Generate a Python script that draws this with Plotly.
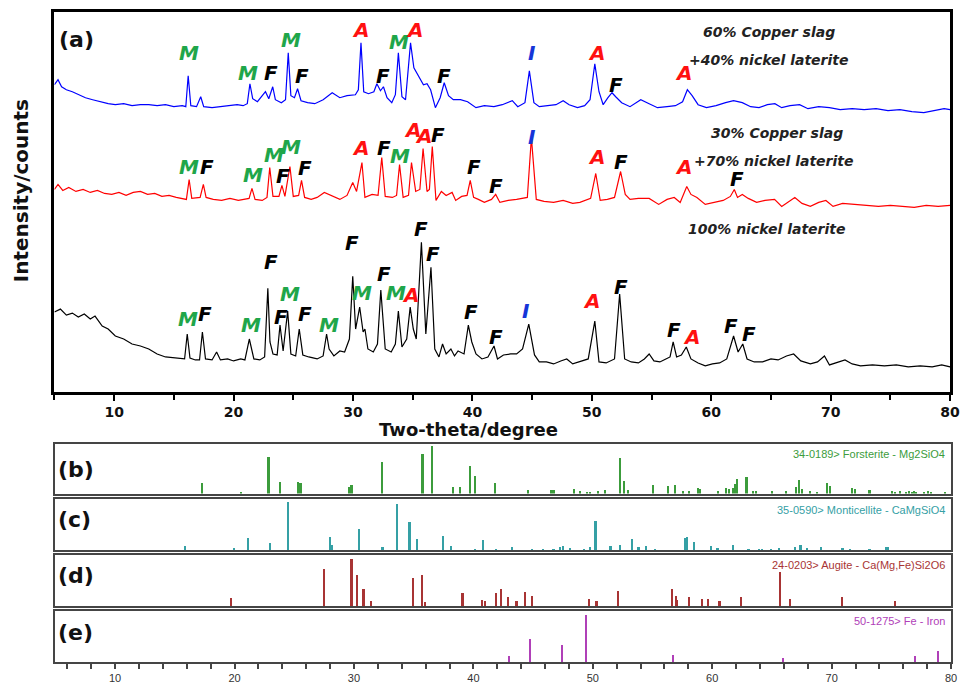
import plotly.graph_objects as go

W, H = 968, 684

# ---------------- data: main XRD patterns (2-theta, intensity a.u. incl. offset) ----------------
laterite100 = [(5.0,80),(5.5,83),(6.0,77),(6.5,79),(7.0,75),(7.5,78),(8.0,73),(8.4,76),(9.0,66),(9.5,63),
    (10.1,56),(10.8,53),(11.5,48),(12.2,46),(12.9,43),(13.6,38),(14.3,35),(15.0,34),(15.7,33),(15.9,33),
    (16.12,58),(16.35,34),(16.8,32),(17.15,32),(17.39,60),(17.65,33),(18.2,32),(18.58,40),(18.9,32),(19.5,33),
    (20.0,31),(20.6,33),(20.95,32),(21.32,53),(21.7,33),(22.2,32),(22.6,35),(22.87,104),(23.05,50),(23.3,38),
    (23.65,37),(23.89,67),(24.15,41),(24.53,81),(24.8,38),(25.2,36),(25.5,63),(25.8,37),(26.3,35),(27.0,33),
    (27.5,36),(27.79,58),(28.0,43),(28.4,36),(28.9,41),(29.3,40),(29.7,53),(29.98,116),(30.22,63),(30.56,85),
    (30.85,60),(31.0,63),(31.25,43),(31.7,40),(32.05,48),(32.33,102),(32.7,43),(33.2,40),(33.55,48),(33.8,81),
    (34.1,45),(34.5,53),(34.79,85),(35.05,63),(35.3,53),(35.73,150),(36.1,58),(36.53,125),(36.85,43),(37.2,35),
    (37.5,48),(37.8,38),(38.2,43),(38.5,36),(38.8,41),(39.3,38),(39.66,67),(39.95,50),(40.3,38),(40.8,33),
    (41.3,35),(41.81,46),(42.1,33),(42.6,37),(43.2,38),(43.7,38),(44.2,43),(44.72,68),(45.2,37),(45.6,30),
    (46.2,30),(46.8,28),(47.4,31),(47.9,33),(48.4,28),(49.0,30),(49.7,33),(50.25,71),(50.6,30),(51.2,29),
    (51.9,33),(52.33,98),(52.75,33),(53.3,30),(53.9,29),(54.4,33),(54.8,38),(55.2,31),(55.7,30),(56.2,33),
    (56.55,35),(56.81,50),(57.1,35),(57.5,37),(57.91,45),(58.3,33),(58.9,29),(59.5,26),(60.1,28),(60.7,29),
    (61.3,33),(61.87,56),(62.25,40),(62.64,48),(63.0,33),(63.6,30),(64.3,30),(65.0,33),(65.6,32),(66.3,36),
    (66.9,38),(67.5,31),(68.3,28),(68.9,30),(69.48,36),(69.9,27),(70.5,29),(71.2,32),(71.8,28),(72.5,26),
    (73.5,27),(74.5,26),(75.5,27),(76.5,25),(77.5,26),(78.5,25),(79.3,27),(80.0,25)]

slag30 = [(5.0,203),(5.3,208),(5.7,202),(6.2,205),(6.8,201),(7.4,203),(8.0,200),(8.6,202),(9.2,199),(9.8,198),
    (10.4,200),(11.0,197),(11.6,200),(12.2,201),(12.8,198),(13.4,199),(14.0,196),(14.6,197),(15.2,195),(15.8,194),
    (16.05,193),(16.28,213),(16.5,194),(17.2,195),(17.47,208),(17.7,195),(18.3,193),(19.0,192),(19.7,194),(20.4,192),
    (21.0,193),(21.3,194),(21.54,204),(21.8,193),(22.4,192),(22.8,195),(23.03,225),(23.3,196),(23.8,196),(24.05,207),
    (24.3,196),(24.72,226),(25.0,196),(25.45,197),(25.69,212),(25.95,195),(26.5,193),(27.0,195),(27.6,200),(28.2,197),
    (28.9,193),(29.5,197),(29.98,210),(30.3,201),(30.75,230),(31.0,195),(31.6,198),(32.1,197),(32.41,235),(32.7,196),
    (33.3,195),(33.65,197),(33.9,228),(34.2,195),(34.65,197),(34.9,230),(35.25,201),(35.6,203),(35.87,244),(36.2,201),
    (36.4,203),(36.64,246),(36.95,192),(37.4,201),(37.8,197),(38.3,200),(38.6,192),(39.1,196),(39.55,197),(39.82,212),
    (40.1,195),(40.5,193),(41.0,190),(41.6,193),(41.95,198),(42.3,190),(43.0,192),(43.7,193),(44.6,195),(44.94,255),
    (45.35,193),(46.0,191),(46.8,190),(47.6,192),(48.4,189),(49.0,190),(49.9,194),(50.33,219),(50.7,192),(51.3,193),
    (51.9,195),(52.41,221),(52.8,198),(53.2,193),(53.9,194),(54.8,194),(55.6,188),(56.3,193),(56.9,195),(57.4,190),
    (57.95,206),(58.3,198),(58.8,195),(59.5,188),(60.2,190),(61.0,192),(61.6,196),(61.93,203),(62.2,195),(62.6,198),
    (63.1,194),(63.8,190),(64.5,192),(65.3,193),(65.9,186),(66.5,191),(67.0,195),(67.6,189),(68.3,186),(69.0,190),
    (69.6,192),(70.2,186),(71.0,189),(72.0,188),(73.0,187),(74.0,186),(75.0,187),(76.0,186),(77.0,185),(78.0,187),
    (79.0,186),(80.0,187)]

slag60 = [(5.0,308),(5.3,313),(5.6,306),(6.0,303),(6.5,301),(7.0,298),(7.6,295),(8.2,293),(8.8,291),(9.5,289),
    (10.1,288),(10.8,289),(11.5,287),(12.2,288),(12.9,288),(13.6,287),(14.3,288),(15.0,286),(15.7,287),(16.0,286),
    (16.2,317),(16.42,287),(16.9,286),(17.25,296),(17.5,286),(18.2,285),(18.9,286),(19.6,287),(20.3,288),(20.8,287),
    (21.15,289),(21.37,309),(21.6,294),(22.0,291),(22.67,301),(22.95,294),(23.28,306),(23.5,293),(24.0,290),(24.35,293),
    (24.58,340),(24.8,297),(25.1,295),(25.36,304),(25.65,292),(26.2,290),(26.8,289),(27.5,293),(28.26,300),(28.9,295),
    (29.5,297),(30.2,298),(30.45,303),(30.67,350),(30.9,301),(31.3,299),(31.75,301),(32.0,309),(32.3,302),(32.55,306),
    (32.85,295),(33.25,290),(33.55,298),(33.8,340),(34.1,296),(34.4,293),(34.82,350),(35.1,325),(35.5,316),(35.9,308),
    (36.2,309),(36.5,303),(36.9,285),(37.3,295),(37.64,310),(38.0,297),(38.4,293),(39.0,293),(39.6,291),(40.3,285),
    (41.0,287),(41.8,286),(42.5,288),(43.34,292),(43.8,286),(44.4,290),(44.77,322),(45.15,290),(45.6,286),(46.3,287),
    (47.0,288),(47.6,292),(48.1,288),(48.8,285),(49.4,287),(49.85,293),(50.25,329),(50.6,301),(50.95,288),(51.35,295),
    (51.69,300),(52.0,296),(52.5,290),(53.2,286),(54.1,293),(54.8,289),(55.5,285),(56.3,286),(57.0,287),(57.6,291),
    (58.0,303),(58.4,297),(58.9,288),(59.6,285),(60.4,287),(61.2,290),(61.87,292),(62.6,290),(63.3,286),(64.0,285),
    (64.7,288),(65.33,289),(65.9,285),(66.6,287),(67.4,288),(68.1,284),(69.0,286),(69.9,285),(70.8,283),(71.8,284),
    (72.8,283),(73.8,284),(74.8,282),(75.8,283),(76.8,281),(77.8,280),(78.8,282),(79.5,284),(80.0,283)]

# ---------------- data: reference stick patterns (2-theta, relative intensity) ----------------
forsterite_pos = [17.36, 20.63, 22.9, 23.87, 25.39, 25.58, 29.65, 29.85, 32.37, 35.8, 36.6, 38.32, 38.9, 39.76,
    40.17, 41.86, 44.66, 46.6, 46.8, 48.5, 49.0, 49.6, 49.85, 50.46, 51.08, 52.36, 52.7, 52.98, 55.07, 56.35,
    56.95, 57.6, 58.1, 58.84, 59.05, 60.52, 61.21, 61.44, 61.77, 61.96, 62.13, 62.93, 63.49, 63.7, 65.03, 66.25,
    67.08, 67.31, 67.58, 68.27, 68.83, 69.69, 69.93, 71.79, 72.0, 73.22, 75.1, 75.33, 75.78, 76.3, 76.55, 76.75,
    76.95, 77.1, 77.8, 78.1, 78.4, 79.56]
forsterite_int = [22, 4, 73, 24, 24, 22, 14, 17, 63, 79, 97, 14, 14, 55,
    35, 22, 7.5, 7.5, 7.5, 10, 5, 2, 2, 5, 7.5, 72, 26, 7.5, 17.7, 15.6,
    17.7, 5, 5, 12, 10, 5, 12, 10, 12, 20, 29, 33, 5, 5, 5, 5,
    14, 28, 10, 5, 3, 22, 15.6, 12, 10, 7.5, 5, 3, 5, 4, 5, 4,
    5, 4, 3, 5, 4, 3]

monticellite_pos = [15.9, 19.99, 21.15, 23.04, 24.5, 28.02, 28.19, 30.46, 32.37, 32.45, 33.64, 34.7, 35.33, 37.52,
    38.15, 40.17, 40.86, 41.97, 43.28, 44.97, 45.85, 46.76, 47.32, 47.54, 48.15, 49.31, 49.81, 50.28, 51.53,
    52.36, 53.32, 53.88, 54.52, 55.27, 57.78, 57.95, 58.5, 59.94, 60.5, 61.77, 63.1, 64.0, 64.2, 64.95, 65.64,
    66.97, 67.44, 68.0, 69.19, 70.97, 71.6, 73.22, 74.58, 74.78]
monticellite_int = [10, 5, 24.5, 14.6, 95, 27, 12, 42, 7, 7, 91, 55, 22, 28.5,
    10, 2.6, 20, 2.6, 7, 4, 2, 2, 7, 9, 5, 2, 7, 58, 10,
    12, 22, 7, 10, 2, 24.5, 27, 17, 10, 5, 12, 2, 2, 2, 2, 5,
    7, 12, 5, 7, 5, 3, 2, 7, 7]

augite_pos = [19.77, 27.58, 29.85, 30.29, 30.85, 31.45, 35.0, 35.72, 36.0, 39.15, 40.76, 41.06, 41.94, 42.39,
    42.94, 43.66, 44.38, 44.93, 49.73, 50.36, 52.19, 56.7, 57.03, 57.14, 58.14, 59.22, 59.69, 60.66, 62.49,
    65.76, 66.56, 70.9, 75.33]
augite_int = [14.6, 71.5, 93, 61.6, 34, 9, 54, 61.6, 7, 24.5, 12, 9, 24.5, 34,
    16.6, 9, 26.5, 19, 14, 9, 29, 34, 19, 12, 16.6, 14, 14, 9, 16.6,
    67, 14, 16.6, 9]

iron_pos = [43.06, 44.77, 47.48, 49.48, 56.79, 66.0, 77.05, 78.94]
iron_int = [11, 44, 33.5, 93, 14, 6.6, 11, 21]

x_ticks = [10, 20, 30, 40, 50, 60, 70, 80]

# ---------------- phase labels: (letter, 2-theta, intensity) ----------------
phase_labels = [
    # 60% copper slag
    ("M", 16.23, 340), ("M", 21.22, 320), ("F", 23.12, 320), ("M", 24.78, 353),
    ("F", 25.69, 317), ("A", 30.59, 363), ("F", 32.5, 317), ("M", 33.82, 351),
    ("A", 35.15, 363), ("F", 37.64, 317), ("I", 45.03, 340), ("A", 50.42, 340),
    ("F", 52.0, 308), ("A", 57.64, 320),
    # 30% copper slag
    ("M", 16.31, 226), ("F", 17.81, 226), ("M", 21.63, 217), ("M", 23.37, 238),
    ("M", 24.78, 246), ("F", 24.12, 216), ("F", 26.02, 225), ("A", 30.59, 245),
    ("F", 32.58, 245), ("M", 33.91, 237), ("A", 34.99, 263), ("A", 35.9, 257),
    ("F", 37.15, 258), ("F", 40.13, 226), ("F", 41.96, 206), ("I", 45.03, 256),
    ("A", 50.42, 236), ("F", 52.41, 231), ("A", 57.64, 226), ("F", 62.12, 213),
    # 100% nickel laterite
    ("M", 16.15, 73), ("F", 17.64, 78), ("M", 21.46, 67), ("F", 23.12, 130),
    ("F", 23.95, 75), ("M", 24.7, 98), ("F", 26.02, 78), ("M", 28.01, 67),
    ("F", 29.92, 149), ("M", 30.75, 99), ("F", 32.58, 118), ("M", 33.57, 99),
    ("A", 34.82, 97), ("F", 35.73, 163), ("F", 36.72, 138), ("F", 39.87, 80),
    ("F", 41.96, 55), ("I", 44.45, 81), ("A", 50.0, 91), ("F", 52.41, 105),
    ("F", 56.89, 62), ("A", 58.38, 55), ("F", 61.62, 66), ("F", 63.12, 58),
]

# ---------------- styling ----------------
phase_colors = {"M": "#1fa64a", "A": "#ff1010", "F": "#000000", "I": "#1535d8"}
BOLD = "DejaVu Sans"
NARROW = "Liberation Sans Narrow, Arial Narrow, Liberation Sans, Arial"

def ydom(top_px, bot_px):
    return [1 - bot_px / H, 1 - top_px / H]

XDOM_MAIN = [55 / W, 960 / W]
XDOM_LOW = [56 / W, 961 / W]

fig = go.Figure()

for data, color in [(laterite100, "#000000"), (slag30, "#ff0000"), (slag60, "#0000ff")]:
    fig.add_trace(go.Scatter(x=[p[0] for p in data], y=[p[1] for p in data], mode="lines",
                             line=dict(color=color, width=1.2), xaxis="x", yaxis="y",
                             showlegend=False, hoverinfo="skip"))

sticks = [
    (forsterite_pos, forsterite_int, "#3c9c3c", "2", "34-0189> Forsterite - Mg2SiO4", "(b)"),
    (monticellite_pos, monticellite_int, "#35a0a5", "3", "35-0590> Monticellite - CaMgSiO4", "(c)"),
    (augite_pos, augite_int, "#a83434", "4", "24-0203> Augite - Ca(Mg,Fe)Si2O6", "(d)"),
    (iron_pos, iron_int, "#b040b8", "5", "50-1275> Fe - Iron", "(e)"),
]
for pos, inten, col, ax, _, _ in sticks:
    fig.add_trace(go.Bar(x=pos, y=inten, width=0.14, marker=dict(color=col, line=dict(width=0)),
                         xaxis="x" + ax, yaxis="y" + ax, showlegend=False, hoverinfo="skip"))

annotations = []
for letter, x, y in phase_labels:
    annotations.append(dict(x=x, y=y, xref="x", yref="y", text=letter, showarrow=False,
                            xanchor="center", yanchor="middle",
                            font=dict(family=BOLD, size=20, color=phase_colors[letter],
                                      weight="bold", style="italic")))

sample_texts = [("60% Copper slag", 777, 32), ("+40% nickel laterite", 777, 60),
                ("30% Copper slag", 785, 133), ("+70% nickel laterite", 782, 161),
                ("100% nickel laterite", 775, 230)]
for t, px, py in sample_texts:
    annotations.append(dict(x=px / W, y=1 - py / H, xref="paper", yref="paper", text=t, showarrow=False,
                            xanchor="center", yanchor="middle",
                            font=dict(family=BOLD, size=14, color="#222222", weight="bold", style="italic")))

annotations.append(dict(x=58 / W, y=1 - 40 / H, xref="paper", yref="paper", text="(a)", showarrow=False,
                        xanchor="left", yanchor="middle",
                        font=dict(family=BOLD, size=22, color="#111", weight="bold")))
panel_y = {"(b)": 471, "(c)": 521, "(d)": 577, "(e)": 634}
label_y = {"(b)": 455, "(c)": 511, "(d)": 567, "(e)": 623}
for pos, inten, col, ax, name, tag in sticks:
    annotations.append(dict(x=57 / W, y=1 - panel_y[tag] / H, xref="paper", yref="paper", text=tag,
                            showarrow=False, xanchor="left", yanchor="middle",
                            font=dict(family=BOLD, size=22, color="#111", weight="bold")))
    annotations.append(dict(x=957 / W, y=1 - label_y[tag] / H, xref="paper", yref="paper", text=name,
                            showarrow=False, xanchor="right", yanchor="middle",
                            font=dict(family=NARROW, size=11, color=col)))

annotations.append(dict(x=473 / W, y=1 - 431 / H, xref="paper", yref="paper", text="Two-theta/degree",
                        showarrow=False, xanchor="center", yanchor="middle",
                        font=dict(family=BOLD, size=18, color="#111", weight="bold")))
annotations.append(dict(x=22 / W, y=1 - 191 / H, xref="paper", yref="paper", text="Intensity/counts",
                        showarrow=False, textangle=-90, xanchor="center", yanchor="middle",
                        font=dict(family=BOLD, size=20, color="#111", weight="bold")))

layout = dict(
    width=W, height=H, autosize=False, margin=dict(l=0, r=0, t=0, b=0, pad=0),
    paper_bgcolor="white", plot_bgcolor="white", bargap=0,
    annotations=annotations,
    xaxis=dict(domain=XDOM_MAIN, range=[5, 80], anchor="y", showline=True, mirror=True,
               linecolor="black", linewidth=2.5, ticks="outside", ticklen=6, tickwidth=2,
               tickcolor="black", tickvals=x_ticks, showgrid=False, zeroline=False,
               tickfont=dict(family=BOLD, size=14, color="#111", weight="bold"),
               minor=dict(dtick=5, tick0=5, ticks="outside", ticklen=5, tickwidth=2, tickcolor="black",
                          showgrid=False)),
    yaxis=dict(domain=ydom(12, 393), range=[0, 381], anchor="x", showline=True, mirror=True,
               linecolor="black", linewidth=2.5, showticklabels=False, ticks="", showgrid=False,
               zeroline=False),
)
panel_px = {"2": (445, 495), "3": (500, 552), "4": (557, 608), "5": (613, 664)}
for ax, (top, bot) in panel_px.items():
    xa = dict(domain=XDOM_LOW, range=[5, 80], anchor="y" + ax, showline=True, mirror=True,
              linecolor="#454545", linewidth=1.8, showgrid=False, zeroline=False)
    if ax == "5":
        xa.update(ticks="outside", ticklen=5, tickwidth=1.5, tickcolor="#454545", tickvals=x_ticks,
                  tickfont=dict(family=NARROW, size=11, color="#333"),
                  minor=dict(dtick=2, tick0=0, ticks="outside", ticklen=5, tickwidth=1.5,
                             tickcolor="#454545", showgrid=False))
    else:
        xa.update(ticks="", showticklabels=False)
    layout["xaxis" + ax] = xa
    layout["yaxis" + ax] = dict(domain=ydom(top, bot), range=[0, 100], anchor="x" + ax, showline=True,
                                mirror=True, linecolor="#454545", linewidth=1.8, showticklabels=False,
                                ticks="", showgrid=False, zeroline=False)

fig.update_layout(**layout)
post = ("document.body.style.margin='0';document.body.style.padding='0';"
        "document.body.style.overflow='hidden';"
        "document.documentElement.style.overflow='hidden';"
        "Plotly.relayout(document.getElementById('{plot_id}'), {width: 968, height: 684});")
fig.write_html("out.html", config={"displayModeBar": False, "responsive": False}, post_script=post)
